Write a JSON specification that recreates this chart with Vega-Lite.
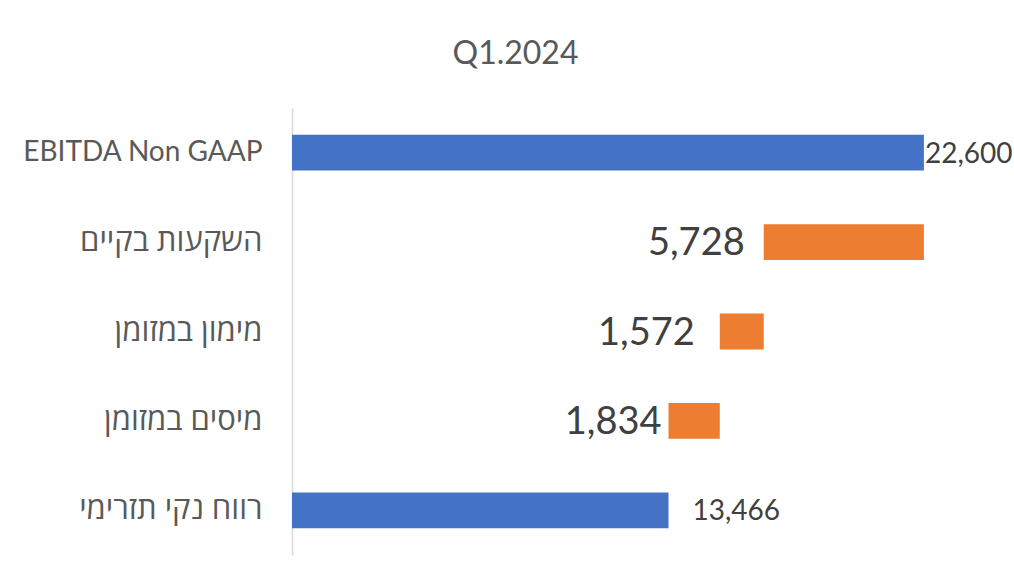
{
  "$schema": "https://vega.github.io/schema/vega-lite/v6.json",
  "autosize": {"type": "none"},
  "padding": {"left": 292, "top": 108, "right": 23, "bottom": 27},
  "width": 699,
  "height": 447,
  "background": "white",
  "title": {
    "text": "Q1.2024",
    "font": "Lato",
    "fontSize": 32,
    "fontWeight": "normal",
    "color": "#595959",
    "anchor": "middle",
    "frame": "group",
    "dx": -126,
    "offset": 37
  },
  "config": {"view": {"stroke": null}},
  "data": {
    "values": [
      {"category": "EBITDA Non GAAP", "start": 0, "end": 22600, "value": 22600, "type": "total"},
      {"category": "השקעות בקיים", "start": 16872, "end": 22600, "value": 5728, "type": "decrease"},
      {"category": "מימון במזומן", "start": 15300, "end": 16872, "value": 1572, "type": "decrease"},
      {"category": "מיסים במזומן", "start": 13466, "end": 15300, "value": 1834, "type": "decrease"},
      {"category": "רווח נקי תזרימי", "start": 0, "end": 13466, "value": 13466, "type": "total"}
    ]
  },
  "encoding": {
    "y": {
      "field": "category",
      "type": "nominal",
      "sort": null,
      "scale": {"paddingInner": 0.6, "paddingOuter": 0.3},
      "axis": {
        "title": null,
        "ticks": false,
        "labelPadding": 30,
        "labelFont": "Lato, 'Open Sans', 'DejaVu Sans', sans-serif",
        "labelFontSize": {"condition": {"test": "datum.value == 'EBITDA Non GAAP'", "value": 28}, "value": 31},
        "labelColor": "#595959",
        "domainColor": "#D9D9D9",
        "domainWidth": 1.5,
        "labelLimit": 400
      }
    }
  },
  "layer": [
    {
      "mark": {"type": "bar"},
      "encoding": {
        "x": {"field": "start", "type": "quantitative", "scale": {"domain": [0, 25000], "nice": false}, "axis": null},
        "x2": {"field": "end"},
        "color": {"field": "type", "type": "nominal", "scale": {"domain": ["total", "decrease"], "range": ["#4472C4", "#ED7D31"]}, "legend": null}
      }
    },
    {
      "transform": [{"filter": "datum.category == 'EBITDA Non GAAP'"}],
      "mark": {"type": "text", "align": "left", "baseline": "middle", "dx": 1, "dy": 2, "font": "Lato", "fontSize": 28, "color": "#404040"},
      "encoding": {
        "x": {"field": "end", "type": "quantitative"},
        "text": {"field": "value", "type": "quantitative", "format": ","}
      }
    },
    {
      "transform": [{"filter": "datum.category == 'רווח נקי תזרימי'"}],
      "mark": {"type": "text", "align": "left", "baseline": "middle", "dx": 24, "dy": 2, "font": "Lato", "fontSize": 28, "color": "#404040"},
      "encoding": {
        "x": {"field": "end", "type": "quantitative"},
        "text": {"field": "value", "type": "quantitative", "format": ","}
      }
    },
    {
      "transform": [{"filter": "datum.category == 'השקעות בקיים'"}],
      "mark": {"type": "text", "align": "right", "baseline": "middle", "dx": -19, "dy": 2, "font": "Lato", "fontSize": 38, "color": "#404040"},
      "encoding": {
        "x": {"field": "start", "type": "quantitative"},
        "text": {"field": "value", "type": "quantitative", "format": ","}
      }
    },
    {
      "transform": [{"filter": "datum.category == 'מימון במזומן'"}],
      "mark": {"type": "text", "align": "right", "baseline": "middle", "dx": -25, "dy": 2, "font": "Lato", "fontSize": 38, "color": "#404040"},
      "encoding": {
        "x": {"field": "start", "type": "quantitative"},
        "text": {"field": "value", "type": "quantitative", "format": ","}
      }
    },
    {
      "transform": [{"filter": "datum.category == 'מיסים במזומן'"}],
      "mark": {"type": "text", "align": "right", "baseline": "middle", "dx": -7, "dy": 2, "font": "Lato", "fontSize": 38, "color": "#404040"},
      "encoding": {
        "x": {"field": "start", "type": "quantitative"},
        "text": {"field": "value", "type": "quantitative", "format": ","}
      }
    }
  ]
}
